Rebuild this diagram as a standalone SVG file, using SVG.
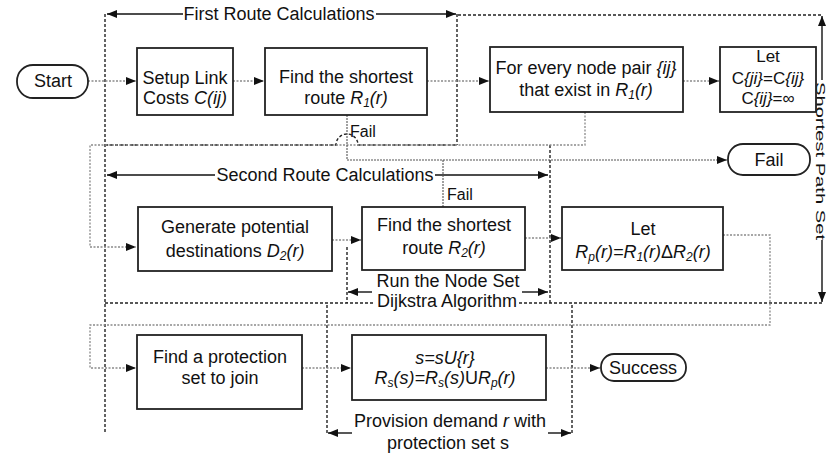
<svg xmlns="http://www.w3.org/2000/svg" width="826" height="456" viewBox="0 0 826 456">
<style>
text{font-family:"Liberation Sans",Arial,sans-serif;font-size:18px;fill:#111;text-anchor:middle}
.i{font-style:italic}
.lbl{font-size:16px;text-anchor:start}
.sm{font-size:17px}
.box{fill:#fff;stroke:#222;stroke-width:1.8}
.flow{fill:none;stroke:#8a8a8a;stroke-width:1.3;stroke-dasharray:2 1.5}
.fail{fill:none;stroke:#555;stroke-width:1.1;stroke-dasharray:2 1}
.reg{fill:none;stroke:#222;stroke-width:1.4;stroke-dasharray:3 2}
.brk{fill:none;stroke:#111;stroke-width:1.4}
</style>
<defs>
<marker id="ah" viewBox="0 0 10 8" refX="10" refY="4" markerWidth="10" markerHeight="8" markerUnits="userSpaceOnUse" orient="auto">
<path d="M0,0 L10,4 L0,8 z" fill="#111"/>
</marker>
</defs>

<g id="connectors">
<!-- region boundaries -->
<path class="reg" d="M105,14 V433"/>
<path class="reg" d="M457,14 V145"/>
<path class="reg" d="M105,145 H336 A11,11 0 0 1 358,145 H457"/>
<path class="reg" d="M550,145 V303"/>
<path class="reg" d="M105,303 H373 M519,303 H822"/>
<path class="reg" d="M458,15 H822"/>
<path class="reg" d="M327,305 V433"/>
<path class="reg" d="M572,305 V433"/>
<path class="reg" d="M347,247 V303"/>
<!-- bracket arrows -->
<path class="brk" d="M183,14 H107" marker-end="url(#ah)"/>
<path class="brk" d="M376,14 H456" marker-end="url(#ah)"/>
<path class="brk" d="M215,175 H107" marker-end="url(#ah)"/>
<path class="brk" d="M435,175 H548" marker-end="url(#ah)"/>
<path class="brk" d="M372,292 H348" marker-end="url(#ah)"/>
<path class="brk" d="M522,292 H548" marker-end="url(#ah)"/>
<path class="brk" d="M352,433 H328" marker-end="url(#ah)"/>
<path class="brk" d="M548,433 H571" marker-end="url(#ah)"/>
<path class="brk" d="M822,80 V16" marker-end="url(#ah)"/>
<path class="brk" d="M822,240 V302" marker-end="url(#ah)"/>
<!-- flow connectors -->
<path class="flow" d="M88,81 H136" marker-end="url(#ah)"/>
<path class="flow" d="M233,81 H264" marker-end="url(#ah)"/>
<path class="flow" d="M427,81 H489" marker-end="url(#ah)"/>
<path class="flow" d="M683,81 H719" marker-end="url(#ah)"/>
<path class="flow" d="M585,112 V145 H90 V247 H136" marker-end="url(#ah)"/>
<path class="fail" d="M347,115 V160 H727" marker-end="url(#ah)"/>
<path class="fail" d="M443,207 V160"/>
<path class="flow" d="M332,240 H361" marker-end="url(#ah)"/>
<path class="flow" d="M525,238 H561" marker-end="url(#ah)"/>
<path class="flow" d="M723,235 H770 V325 H90 V368 H136" marker-end="url(#ah)"/>
<path class="flow" d="M302,368 H351" marker-end="url(#ah)"/>
<path class="flow" d="M546,368 H600" marker-end="url(#ah)"/>
</g>

<g id="labels">
<text x="279" y="20">First Route Calculations</text>
<text x="325" y="181">Second Route Calculations</text>
<text class="lbl" x="350" y="137">Fail</text>
<text class="lbl" x="447" y="200">Fail</text>
<text x="448" y="287">Run the Node Set</text>
<text x="447" y="307">Dijkstra Algorithm</text>
<text x="450" y="427">Provision demand <tspan class="i">r</tspan> with</text>
<text x="448" y="449">protection set s</text>
<text transform="rotate(90)" x="161" y="-816" style="font-size:12px" textLength="158" lengthAdjust="spacingAndGlyphs">Shortest Path Set</text>
</g>

<g id="start">
<rect class="box" x="17" y="65" width="71" height="33" rx="16"/>
<text x="53" y="87">Start</text>
</g>

<g id="setup">
<rect class="box" x="137" y="48" width="96" height="67"/>
<text x="185" y="84">Setup Link</text>
<text x="185" y="104">Costs <tspan class="i">C(ij)</tspan></text>
</g>

<g id="route1">
<rect class="box" x="265" y="48" width="162" height="67"/>
<text x="346" y="83">Find the shortest</text>
<text x="346" y="104">route <tspan class="i">R</tspan><tspan class="i" font-size="12" dy="3">1</tspan><tspan class="i" dy="-3">(r)</tspan></text>
</g>

<g id="nodepair">
<rect class="box" x="490" y="47" width="193" height="65"/>
<text x="586" y="74">For every node pair <tspan class="i">{ij}</tspan></text>
<text x="586" y="96">that exist in <tspan class="i">R</tspan><tspan class="i" font-size="12" dy="3">1</tspan><tspan class="i" dy="-3">(r)</tspan></text>
</g>

<g id="letc">
<rect class="box" x="720" y="47" width="96" height="65"/>
<text class="sm" x="768" y="62">Let</text>
<text class="sm" x="768" y="84">C<tspan class="i">{ji}</tspan>=C<tspan class="i">{ij}</tspan></text>
<text class="sm" x="768" y="104">C<tspan class="i">{ij}</tspan>=∞</text>
</g>

<g id="failnode">
<rect class="box" x="728" y="144" width="82" height="31" rx="15"/>
<text x="769" y="166">Fail</text>
</g>

<g id="generate">
<rect class="box" x="138" y="207" width="194" height="64"/>
<text x="235" y="233">Generate potential</text>
<text x="235" y="257">destinations <tspan class="i">D</tspan><tspan class="i" font-size="12" dy="3">2</tspan><tspan class="i" dy="-3">(r)</tspan></text>
</g>

<g id="route2">
<rect class="box" x="362" y="207" width="163" height="63"/>
<text x="444" y="231">Find the shortest</text>
<text x="444" y="254">route <tspan class="i">R</tspan><tspan class="i" font-size="12" dy="3">2</tspan><tspan class="i" dy="-3">(r)</tspan></text>
</g>

<g id="letrp">
<rect class="box" x="562" y="207" width="161" height="63"/>
<text x="643" y="235">Let</text>
<text x="643" y="258" class="i">R<tspan font-size="12" dy="3">p</tspan><tspan dy="-3">(r)=R</tspan><tspan font-size="12" dy="3">1</tspan><tspan dy="-3">(r)</tspan><tspan font-style="normal">Δ</tspan>R<tspan font-size="12" dy="3">2</tspan><tspan dy="-3">(r)</tspan></text>
</g>

<g id="protection">
<rect class="box" x="137" y="335" width="165" height="74"/>
<text x="220" y="363">Find a protection</text>
<text x="220" y="384">set to join</text>
</g>

<g id="setupdate">
<rect class="box" x="352" y="335" width="194" height="65"/>
<text x="445" y="364" class="i">s=sU{r}</text>
<text x="445" y="384" class="i">R<tspan font-size="12" dy="3">s</tspan><tspan dy="-3">(s)=R</tspan><tspan font-size="12" dy="3">s</tspan><tspan dy="-3">(s)</tspan><tspan font-style="normal">U</tspan>R<tspan font-size="12" dy="3">p</tspan><tspan dy="-3">(r)</tspan></text>
</g>

<g id="success">
<rect class="box" x="601" y="354" width="85" height="27" rx="13"/>
<text x="643" y="374">Success</text>
</g>
</svg>
